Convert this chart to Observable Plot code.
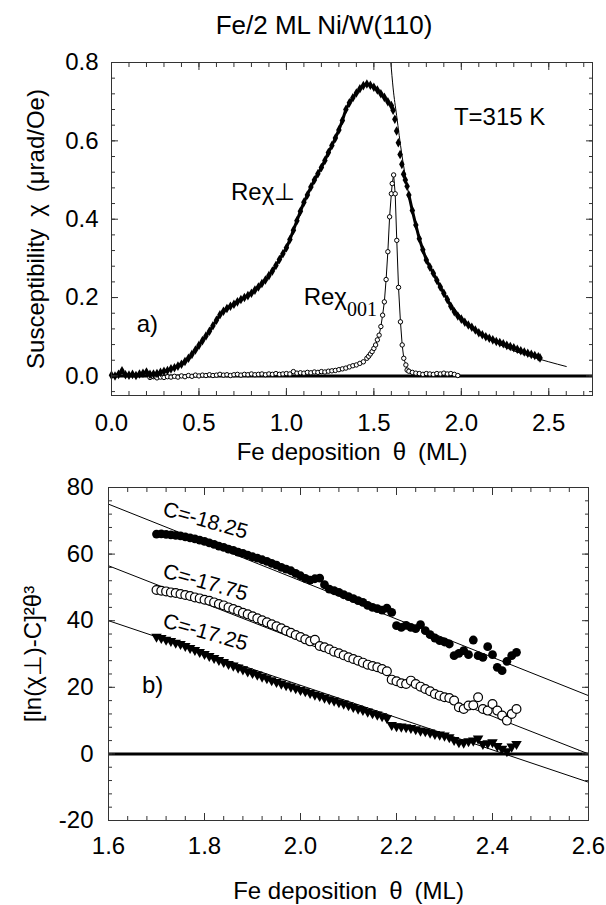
<!DOCTYPE html>
<html><head><meta charset="utf-8">
<script src="https://cdn.jsdelivr.net/npm/d3@7"></script>
<script src="https://cdn.jsdelivr.net/npm/@observablehq/plot@0.6"></script>
<style>
body{margin:0;background:#fff;}
#wrap{position:relative;width:606px;height:905px;overflow:hidden;font-family:"Liberation Sans",Arial,Helvetica,sans-serif;color:#000;}
#title{position:absolute;top:9px;left:0;width:648px;text-align:center;font-size:26px;line-height:32px;}
#top{position:absolute;left:0;top:40px;}
#bottom{position:absolute;left:0;top:470px;}
</style></head>
<body><div id="wrap"><div id="title">Fe/2 ML Ni/W(110)</div><div id="top"></div><div id="bottom"></div></div>
<script>
// ---------- Panel a) data : [theta (ML), chi (µrad/Oe)] ----------
const chiPerp = [[0.00,0.002],[0.02,0.000],[0.04,0.004],[0.06,0.013],[0.08,0.003],[0.10,0.002],[0.12,0.004],[0.14,0.001],[0.16,0.005],[0.18,0.007],[0.20,0.010],[0.22,0.004],[0.24,0.005],[0.26,0.006],[0.28,0.009],[0.30,0.012],[0.32,0.014],[0.34,0.018],[0.36,0.021],[0.38,0.025],[0.40,0.030],[0.42,0.037],[0.44,0.045],[0.46,0.055],[0.48,0.066],[0.50,0.078],[0.52,0.090],[0.54,0.102],[0.56,0.114],[0.58,0.128],[0.60,0.142],[0.62,0.156],[0.64,0.165],[0.66,0.172],[0.68,0.178],[0.70,0.183],[0.72,0.189],[0.74,0.195],[0.76,0.200],[0.78,0.205],[0.80,0.211],[0.82,0.219],[0.84,0.227],[0.86,0.236],[0.88,0.245],[0.90,0.256],[0.92,0.268],[0.94,0.282],[0.96,0.297],[0.98,0.312],[1.00,0.327],[1.02,0.348],[1.04,0.372],[1.06,0.396],[1.08,0.420],[1.10,0.443],[1.12,0.462],[1.14,0.482],[1.16,0.500],[1.18,0.516],[1.20,0.532],[1.22,0.550],[1.24,0.570],[1.26,0.588],[1.28,0.607],[1.30,0.628],[1.32,0.652],[1.34,0.680],[1.36,0.697],[1.38,0.710],[1.40,0.722],[1.42,0.733],[1.44,0.741],[1.46,0.745],[1.48,0.742],[1.50,0.737],[1.52,0.730],[1.54,0.720],[1.56,0.711],[1.58,0.700],[1.60,0.690],[1.61,0.678],[1.62,0.655],[1.63,0.625],[1.64,0.595],[1.65,0.565],[1.66,0.540],[1.67,0.515],[1.68,0.500],[1.69,0.484],[1.70,0.462],[1.72,0.422],[1.74,0.385],[1.76,0.350],[1.78,0.322],[1.80,0.296],[1.82,0.278],[1.84,0.262],[1.86,0.244],[1.88,0.227],[1.90,0.211],[1.92,0.195],[1.94,0.178],[1.96,0.164],[1.98,0.153],[2.00,0.145],[2.02,0.137],[2.04,0.130],[2.06,0.124],[2.08,0.117],[2.10,0.110],[2.12,0.105],[2.14,0.100],[2.16,0.096],[2.18,0.092],[2.20,0.088],[2.22,0.085],[2.24,0.082],[2.26,0.078],[2.28,0.075],[2.30,0.072],[2.32,0.068],[2.34,0.064],[2.36,0.061],[2.38,0.058],[2.40,0.055],[2.42,0.052],[2.44,0.049],[2.45,0.046]];

const chi001 = [[0.22,-0.004],[0.24,-0.002],[0.26,-0.005],[0.28,-0.003],[0.30,-0.004],[0.32,-0.002],[0.34,-0.003],[0.36,-0.001],[0.38,-0.003],[0.40,0.000],[0.42,-0.002],[0.44,0.001],[0.46,-0.001],[0.48,0.002],[0.50,0.000],[0.52,0.002],[0.54,0.001],[0.56,0.003],[0.58,0.001],[0.60,0.002],[0.62,0.004],[0.64,0.002],[0.66,0.003],[0.68,0.001],[0.70,0.003],[0.72,0.004],[0.74,0.002],[0.76,0.004],[0.78,0.003],[0.80,0.005],[0.82,0.003],[0.84,0.004],[0.86,0.005],[0.88,0.003],[0.90,0.005],[0.92,0.004],[0.94,0.006],[0.96,0.004],[0.98,0.005],[1.00,0.006],[1.02,0.005],[1.04,0.011],[1.06,0.007],[1.08,0.008],[1.10,0.007],[1.12,0.009],[1.14,0.008],[1.16,0.010],[1.18,0.009],[1.20,0.011],[1.22,0.010],[1.24,0.012],[1.26,0.013],[1.28,0.014],[1.30,0.016],[1.32,0.018],[1.34,0.020],[1.36,0.023],[1.38,0.026],[1.40,0.028],[1.42,0.032],[1.44,0.036],[1.46,0.045],[1.47,0.050],[1.48,0.056],[1.49,0.062],[1.50,0.070],[1.51,0.079],[1.52,0.092],[1.53,0.104],[1.54,0.126],[1.55,0.155],[1.56,0.189],[1.57,0.246],[1.58,0.317],[1.59,0.406],[1.60,0.465],[1.605,0.491],[1.613,0.513],[1.622,0.465],[1.631,0.346],[1.641,0.226],[1.652,0.138],[1.662,0.079],[1.671,0.045],[1.683,0.028],[1.69,0.015],[1.70,0.012],[1.72,0.009],[1.74,0.007],[1.76,0.006],[1.78,0.004],[1.80,0.006],[1.82,0.005],[1.84,0.004],[1.86,0.006],[1.88,0.005],[1.90,0.007],[1.92,0.005],[1.94,0.006],[1.96,0.004],[1.98,0.001]];

const fitA = [[1.597,0.800],[1.61,0.735],[1.63,0.665],[1.66,0.565],[1.69,0.485],[1.72,0.423],[1.76,0.352],[1.80,0.300],[1.85,0.250],[1.90,0.212],[2.00,0.150],[2.10,0.111],[2.20,0.084],[2.30,0.064],[2.40,0.049],[2.50,0.036],[2.60,0.024]];

// ---------- Panel b) data ----------
const thetaB = [1.70,1.71,1.72,1.73,1.74,1.75,1.76,1.77,1.78,1.79,1.80,1.81,1.82,1.83,1.84,1.85,1.86,1.87,1.88,1.89,1.90,1.91,1.92,1.93,1.94,1.95,1.96,1.97,1.98,1.99,2.00,2.01,2.02,2.03,2.04,2.05,2.06,2.07,2.08,2.09,2.10,2.11,2.12,2.13,2.14,2.15,2.16,2.17,2.18,2.19,2.20,2.21,2.22,2.23,2.24,2.25,2.26,2.27,2.28,2.29,2.30,2.31,2.32,2.33,2.34,2.35,2.36,2.37,2.38,2.39,2.40,2.41,2.42,2.43,2.44,2.45];
const valC1825 = [66.0,66.1,65.9,65.8,65.6,65.5,65.2,64.9,64.6,64.2,63.8,63.4,62.9,62.4,62.0,61.5,61.1,60.6,60.2,59.7,59.2,58.8,58.3,57.8,57.2,56.7,56.0,55.5,55.0,54.2,53.5,52.7,52.2,52.6,52.8,50.8,49.5,49.0,48.5,47.8,47.2,46.6,46.0,45.5,44.6,44.0,43.6,43.2,43.8,42.5,38.5,38.0,38.6,38.0,37.6,38.8,37.0,35.8,34.8,34.0,33.6,33.0,29.5,30.2,31.0,29.8,34.2,29.5,29.0,32.2,29.8,26.0,25.0,27.8,29.5,30.5];
const valC1775 = [49.2,49.0,48.8,48.5,48.3,48.0,47.7,47.4,47.0,46.7,46.3,46.0,45.5,45.0,44.6,44.0,43.5,43.0,42.4,41.9,41.3,40.7,40.1,39.5,38.9,38.3,37.7,37.0,36.4,35.7,35.1,34.4,33.8,34.3,32.4,32.0,31.4,30.7,30.2,29.6,29.0,28.5,28.0,27.4,26.8,26.4,26.0,25.5,24.8,22.3,21.8,21.2,21.0,22.0,21.0,20.2,19.5,18.8,18.0,17.5,17.0,16.8,16.0,14.0,13.5,14.5,14.6,17.0,13.5,13.0,15.0,13.0,11.5,10.0,12.0,13.5];
const valC1725 = [35.2,34.8,34.3,33.9,33.4,33.0,32.4,31.8,31.2,30.6,30.0,29.4,28.8,28.2,27.6,27.0,26.5,25.9,25.4,24.8,24.3,23.8,23.2,22.7,22.1,21.6,21.1,20.6,20.2,19.7,19.2,18.8,18.3,17.8,17.4,16.9,16.4,16.0,15.5,15.1,14.6,14.1,13.6,13.2,12.7,12.2,11.8,11.3,10.8,8.7,8.3,8.2,8.0,7.8,7.4,7.0,6.8,6.4,6.0,5.8,5.5,5.0,4.2,3.5,3.4,3.8,4.0,4.6,3.0,3.2,3.5,2.4,1.5,0.8,2.2,3.0];
// straight fit lines, end points read at theta = 1.6 and 2.6
const fitThetaB = [1.6, 2.6];
const fitC1825 = [75.0, 17.5];
const fitC1775 = [56.5, 0.0];
const fitC1725 = [40.0, -8.5];

// ---------- ticks & labels ----------
const topXTicks = [0, 0.5, 1.0, 1.5, 2.0, 2.5];
const topYTicks = [0, 0.2, 0.4, 0.6, 0.8];
const botXTicks = [1.6, 1.8, 2.0, 2.2, 2.4, 2.6];
const botYTicks = [-20, 0, 20, 40, 60, 80];

const labelsA = ["T=315 K", "Reχ⊥", "Reχ", "001", "a)"];
const labelsAx = [2.219, 0.867, 1.346, 1.346, 0.205];
const labelsAy = [0.660, 0.469, 0.2005, 0.2005, 0.132];
const labelsB = ["C=-18.25", "C=-17.75", "C=-17.25", "b)"];
const labelsBx = [1.802, 1.802, 1.802, 1.692];
const labelsBy = [70.1, 51.5, 36.5, 20.6];

const FONT = '"Liberation Sans", Arial, Helvetica, sans-serif';
const f1 = d => d.toFixed(1);
const fInt = d => String(d);
const X = d => d[0], Y = d => d[1];

function frameTicks(xMajor, xMinor, yMajor, yMinor) {
  const out = [];
  for (const anchor of ["bottom", "top"]) {
    out.push(Plot.axisX(xMajor, {anchor, tickSize: -7, fill: "none", stroke: "#333"}));
    out.push(Plot.axisX(xMinor, {anchor, tickSize: -4, fill: "none", stroke: "#333"}));
  }
  for (const anchor of ["left", "right"]) {
    out.push(Plot.axisY(yMajor, {anchor, tickSize: -7, fill: "none", stroke: "#333"}));
    out.push(Plot.axisY(yMinor, {anchor, tickSize: -4, fill: "none", stroke: "#333"}));
  }
  return out;
}

const ann = (i, arr, ax, ay) => [{x: ax[i], y: ay[i], t: arr[i]}];

const topPlot = Plot.plot({
  width: 606, height: 430,
  marginLeft: 111, marginRight: 14, marginTop: 22, marginBottom: 75,
  x: {domain: [0, 2.75]},
  y: {domain: [-0.05, 0.8]},
  style: {fontFamily: FONT, fontSize: "24px", color: "#000", background: "transparent", overflow: "visible"},
  marks: [
    Plot.ruleY([0], {strokeWidth: 3, stroke: "#000"}),
    Plot.line(fitA, {x: X, y: Y, strokeWidth: 1, curve: "monotone-x"}),
    Plot.line(chi001, {x: X, y: Y, strokeWidth: 1}),
    Plot.dot(chi001, {x: X, y: Y, r: 2.2, fill: "white", stroke: "black", strokeWidth: 1}),
    Plot.line(chiPerp, {filter: d => d[0] <= 1.60, x: X, y: Y, strokeWidth: 3}),
    Plot.line(chiPerp, {filter: d => d[0] >= 1.70, x: X, y: Y, strokeWidth: 3}),
    Plot.dot(chiPerp, {x: X, y: Y, symbol: "diamond", r: 2.9, fill: "black", stroke: "none"}),
    Plot.frame({stroke: "#333"}),
    ...frameTicks(topXTicks, d3.range(0, 2.75, 0.1), topYTicks, d3.range(-0.04, 0.81, 0.04)),
    Plot.axisX(topXTicks, {anchor: "bottom", tickSize: 0, tickPadding: 18, tickFormat: f1,
      label: "Fe deposition\u2002θ\u2002(ML)", labelAnchor: "center", labelOffset: 64, labelArrow: "none", fontSize: 24}),
    Plot.axisY(topYTicks, {anchor: "left", tickSize: 0, tickPadding: 13, tickFormat: f1,
      label: "Susceptibility\u2002χ\u2002(μrad/Oe)", labelAnchor: "center", labelOffset: 85, labelArrow: "none", fontSize: 24}),
    Plot.text(ann(0, labelsA, labelsAx, labelsAy), {x: "x", y: "y", text: "t", fontSize: 24}),
    Plot.text(ann(1, labelsA, labelsAx, labelsAy), {x: "x", y: "y", text: "t", fontSize: 24}),
    Plot.text(ann(2, labelsA, labelsAx, labelsAy), {x: "x", y: "y", text: "t", fontSize: 24, textAnchor: "end"}),
    Plot.text(ann(3, labelsA, labelsAx, labelsAy), {x: "x", y: "y", text: "t", fontSize: 20, textAnchor: "start", dy: 12, fontFamily: '"Liberation Serif", "Times New Roman", serif'}),
    Plot.text(ann(4, labelsA, labelsAx, labelsAy), {x: "x", y: "y", text: "t", fontSize: 24})
  ]
});
document.getElementById("top").append(topPlot);

const seriesB = (vals) => thetaB.map((t, i) => ({t, v: vals[i]}));
const lineB = (vals) => fitThetaB.map((t, i) => ({t, v: vals[i]}));

const botPlot = Plot.plot({
  width: 606, height: 435,
  marginLeft: 108, marginRight: 18, marginTop: 17, marginBottom: 85,
  x: {domain: [1.6, 2.6]},
  y: {domain: [-20, 80]},
  style: {fontFamily: FONT, fontSize: "24px", color: "#000", background: "transparent", overflow: "visible"},
  marks: [
    Plot.ruleY([0], {strokeWidth: 3, stroke: "#000"}),
    Plot.line(lineB(fitC1825), {x: "t", y: "v", strokeWidth: 1}),
    Plot.line(lineB(fitC1775), {x: "t", y: "v", strokeWidth: 1}),
    Plot.line(lineB(fitC1725), {x: "t", y: "v", strokeWidth: 1}),
    Plot.dot(seriesB(valC1825), {x: "t", y: "v", r: 4.4, fill: "black", stroke: "none"}),
    Plot.dot(seriesB(valC1775), {x: "t", y: "v", r: 4.4, fill: "white", stroke: "black", strokeWidth: 1.2}),
    Plot.dot(seriesB(valC1725), {x: "t", y: "v", symbol: "triangle", rotate: 180, r: 3.9, fill: "black", stroke: "none"}),
    Plot.frame({stroke: "#333"}),
    ...frameTicks(botXTicks, d3.range(1.6, 2.61, 0.04), botYTicks, d3.range(-20, 81, 4)),
    Plot.axisX(botXTicks, {anchor: "bottom", tickSize: 0, tickPadding: 16, tickFormat: f1,
      label: "Fe deposition\u2002θ\u2002(ML)", labelAnchor: "center", labelOffset: 78, labelArrow: "none", fontSize: 24}),
    Plot.axisY(botYTicks, {anchor: "left", tickSize: 0, tickPadding: 15, tickFormat: fInt,
      label: "[ln(χ⊥)-C]²θ³", labelAnchor: "center", labelOffset: 85, labelArrow: "none", fontSize: 24}),
    Plot.text(ann(0, labelsB, labelsBx, labelsBy), {x: "x", y: "y", text: "t", fontSize: 21, rotate: 16}),
    Plot.text(ann(1, labelsB, labelsBx, labelsBy), {x: "x", y: "y", text: "t", fontSize: 21, rotate: 16}),
    Plot.text(ann(2, labelsB, labelsBx, labelsBy), {x: "x", y: "y", text: "t", fontSize: 21, rotate: 16}),
    Plot.text(ann(3, labelsB, labelsBx, labelsBy), {x: "x", y: "y", text: "t", fontSize: 24})
  ]
});
document.getElementById("bottom").append(botPlot);
</script>
</body></html>
